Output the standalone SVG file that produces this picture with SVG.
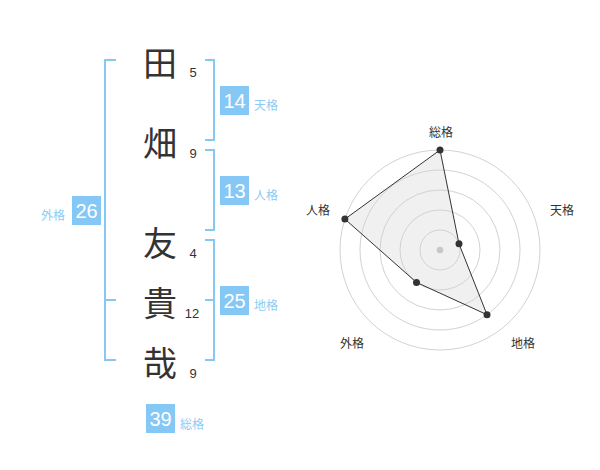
<svg xmlns="http://www.w3.org/2000/svg" width="600" height="470" viewBox="0 0 600 470">
<style>
.ch{font-family:"Noto Sans CJK JP","Noto Sans CJK SC",sans-serif;font-size:34px;fill:#333;text-anchor:middle;dominant-baseline:central}
.num{font-family:"Liberation Sans",Arial,sans-serif;font-size:13px;fill:#333;text-anchor:middle;dominant-baseline:central}
.br{fill:none;stroke:#85c8f5;stroke-width:2}
.box{fill:#85c8f5}
.bt{font-family:"Liberation Sans",Arial,sans-serif;font-size:20px;fill:#fff;text-anchor:middle;dominant-baseline:central}
.lb{font-family:"Noto Sans CJK JP","Noto Sans CJK SC",sans-serif;font-size:12px;fill:#8ccbf5;dominant-baseline:central}
.ring{fill:none;stroke:#d2d2d2;stroke-width:1}
.ax{font-family:"Noto Sans CJK JP","Noto Sans CJK SC",sans-serif;font-size:12px;fill:#333;text-anchor:middle;dominant-baseline:central}
.pt{fill:#333}
</style>
<g id="connectors">
<path class="br" d="M116 60H105V360H116M105 300H116"/>
<path class="br" d="M205 60H214V140H205"/>
<path class="br" d="M205 150H214V230H205"/>
<path class="br" d="M205 240H214V360H205M205 300H214"/>
</g>
<g id="char-1"><text class="ch" x="160" y="61">田</text><text class="num" x="193" y="72">5</text></g>
<g id="char-2"><text class="ch" x="160" y="141">畑</text><text class="num" x="193" y="153">9</text></g>
<g id="char-3"><text class="ch" x="160" y="241">友</text><text class="num" x="193" y="253">4</text></g>
<g id="char-4"><text class="ch" x="160" y="301">貴</text><text class="num" x="192" y="313">12</text></g>
<g id="char-5"><text class="ch" x="160" y="361">哉</text><text class="num" x="193" y="373">9</text></g>
<g id="tenkaku"><rect class="box" x="220" y="86" width="29" height="29"/><text class="bt" x="234.5" y="100.5">14</text><text class="lb" x="254" y="104">天格</text></g>
<g id="jinkaku"><rect class="box" x="220" y="176" width="29" height="29"/><text class="bt" x="234.5" y="190.5">13</text><text class="lb" x="254" y="194">人格</text></g>
<g id="chikaku"><rect class="box" x="220" y="286" width="29" height="29"/><text class="bt" x="234.5" y="300.5">25</text><text class="lb" x="254" y="304">地格</text></g>
<g id="gaikaku"><rect class="box" x="72" y="196" width="29" height="29"/><text class="bt" x="86.5" y="210.5">26</text><text class="lb" x="65" y="214" text-anchor="end">外格</text></g>
<g id="soukaku"><rect class="box" x="146" y="404" width="29" height="29"/><text class="bt" x="160.5" y="418.5">39</text><text class="lb" x="180" y="423">総格</text></g>
<g id="radar">
<polygon points="440,150 459,243.8 487,314.7 416.5,282.4 344.9,219.1" fill="#f0f0f0" stroke="none"/>
<circle class="ring" cx="440" cy="250" r="20"/>
<circle class="ring" cx="440" cy="250" r="40"/>
<circle class="ring" cx="440" cy="250" r="60"/>
<circle class="ring" cx="440" cy="250" r="80"/>
<circle class="ring" cx="440" cy="250" r="100"/>
<circle cx="440" cy="250" r="3.3" fill="#c8c8c8"/>
<polygon points="440,150 459,243.8 487,314.7 416.5,282.4 344.9,219.1" fill="none" stroke="#333" stroke-width="1"/>
<circle class="pt" cx="440" cy="150" r="3.5"/>
<circle class="pt" cx="459" cy="243.8" r="3.5"/>
<circle class="pt" cx="487" cy="314.7" r="3.5"/>
<circle class="pt" cx="416.5" cy="282.4" r="3.5"/>
<circle class="pt" cx="344.9" cy="219.1" r="3.5"/>
<text class="ax" x="441" y="131">総格</text>
<text class="ax" x="562" y="209">天格</text>
<text class="ax" x="318" y="209">人格</text>
<text class="ax" x="352" y="342">外格</text>
<text class="ax" x="523" y="342">地格</text>
</g>
</svg>
